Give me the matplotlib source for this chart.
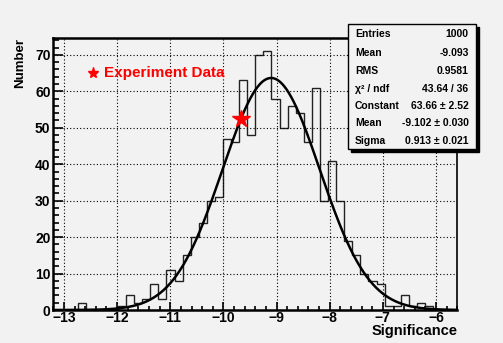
import numpy as np
import matplotlib
matplotlib.use("Agg")
import matplotlib.pyplot as plt
from matplotlib.patches import Rectangle
from matplotlib.lines import Line2D

plt.rcParams['font.family'] = ['Liberation Sans', 'DejaVu Sans']
plt.rcParams['font.weight'] = 'bold'

# histogram: 50 bins from -13.2 to -5.6
x_min, x_max, n_bins = -13.2, -5.6, 50
counts = [0, 0, 0, 2, 0, 0, 0, 0, 1, 4,
          2, 3, 7, 3, 11, 8, 15, 20, 24, 30,
          31, 47, 46, 63, 48, 70, 71, 58, 50, 56,
          54, 46, 61, 30, 41, 30, 19, 15, 10, 8,
          7, 1, 1, 4, 1, 2, 1, 0, 0, 0]

# gaussian fit parameters (from stats box)
fit_const, fit_mean, fit_sigma = 63.66, -9.102, 0.913

# experiment data point
exp_x, exp_y = -9.67, 52.4

stats_labels = ["Entries", "Mean", "RMS", "\u03c7\u00b2 / ndf", "Constant", "Mean", "Sigma"]
stats_values = ["1000", "-9.093", "0.9581", "43.64 / 36", "63.66 \u00b1 2.52",
                "-9.102 \u00b1 0.030", "0.913 \u00b1 0.021"]

W, H = 503, 343
bg = "#f2f2f2"
fig = plt.figure(figsize=(W / 100, H / 100), dpi=100, facecolor=bg)
ax = fig.add_axes([53.3 / W, (H - 310) / H, (457.3 - 53.3) / W, (310 - 38.3) / H])
ax.set_facecolor(bg)

edges = np.linspace(x_min, x_max, n_bins + 1)
ax.stairs(counts, edges, color="#222222", lw=1.0, baseline=0)

xf = np.linspace(x_min, x_max, 500)
yf = fit_const * np.exp(-0.5 * ((xf - fit_mean) / fit_sigma) ** 2)
ax.plot(xf, yf, color="black", lw=1.8)

ax.plot(exp_x, exp_y, marker="*", color="red", ms=13, ls="none", zorder=5)

ax.set_xlim(x_min, x_max)
ax.set_ylim(0, 74.55)
ax.set_xticks(np.arange(-13, -5, 1))
ax.set_xticks(np.arange(-13.2, -5.59, 0.2), minor=True)
ax.set_yticks(np.arange(0, 71, 10))
ax.set_yticks(np.arange(0, 75, 2), minor=True)
ax.tick_params(axis="both", which="both", direction="in", top=False, right=False,
               labelsize=10, width=1.2)
ax.tick_params(axis="y", which="major", length=7.5, pad=2)
ax.tick_params(axis="y", which="minor", length=4.5)
ax.tick_params(axis="x", which="major", length=6, pad=1)
ax.tick_params(axis="x", which="minor", length=3)
for lab in ax.get_xticklabels() + ax.get_yticklabels():
    lab.set_fontweight("bold")
ax.grid(True, which="major", color="black", ls=(0, (1, 2)), lw=0.8)
for s in ["left", "bottom", "top"]:
    ax.spines[s].set_linewidth(1.8)
ax.spines["right"].set_linewidth(1.2)

fig.text(20 / W, 1 - 38 / H, "Number", rotation=90, ha="center", va="top",
         fontsize=9.5, fontweight="bold")
fig.text(458 / W, 1 - 331.5 / H, "Significance", ha="right", va="center",
         fontsize=10.5, fontweight="bold")

# legend
fig.add_artist(Line2D([93 / W], [1 - 73 / H], marker="*", color="red", ms=8,
                      ls="none", transform=fig.transFigure))
fig.text(104 / W, 1 - 73 / H, "Experiment Data", color="red", ha="left",
         va="center", fontsize=11, fontweight="bold")

# stats box
bl, br, bt, bb = 348, 476, 24.3, 149.3
fig.add_artist(Rectangle(((bl + 3) / W, 1 - (bb + 3) / H), (br - bl) / W, (bb - bt) / H,
                         transform=fig.transFigure, facecolor="black", edgecolor="black"))
fig.add_artist(Rectangle((bl / W, 1 - bb / H), (br - bl) / W, (bb - bt) / H,
                         transform=fig.transFigure, facecolor=bg, edgecolor="black", lw=1))
row_y = [34.3, 52.7, 70.7, 88.7, 105.7, 123, 140.7]
for lab, val, yy in zip(stats_labels, stats_values, row_y):
    fig.text(355 / W, 1 - yy / H, lab, ha="left", va="center", fontsize=7.5,
             fontweight="bold")
    fig.text(468.5 / W, 1 - yy / H, val, ha="right", va="center", fontsize=7.5,
             fontweight="bold")

fig.savefig("out.png", dpi=100, facecolor=bg)
